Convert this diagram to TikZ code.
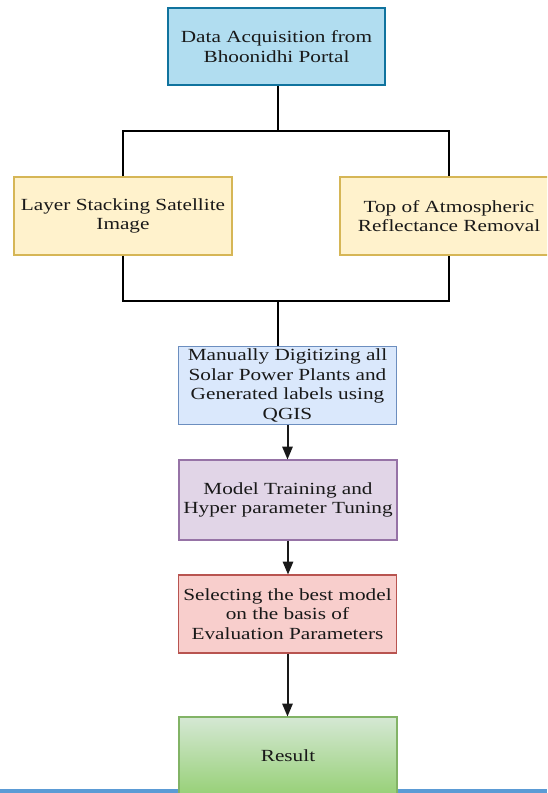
\documentclass[tikz,border=0pt]{standalone}
\usepackage{fontspec}
\setmainfont[FakeStretch=1.25]{Liberation Serif}
\usepackage{tikz}
\usetikzlibrary{calc,positioning,arrows,shapes,shadings}
\definecolor{acqfill}{HTML}{B1DDF0}
\definecolor{acqdraw}{HTML}{10739E}
\definecolor{prefill}{HTML}{FFF2CC}
\definecolor{predraw}{HTML}{D6B656}
\definecolor{digfill}{HTML}{DAE8FC}
\definecolor{digdraw}{HTML}{6C8EBF}
\definecolor{trnfill}{HTML}{E1D5E7}
\definecolor{trndraw}{HTML}{9673A6}
\definecolor{selfill}{HTML}{F8CECC}
\definecolor{seldraw}{HTML}{B85450}
\definecolor{restop}{HTML}{D5E8D4}
\definecolor{resbot}{HTML}{97D077}
\definecolor{resdraw}{HTML}{82B366}
\definecolor{baseblue}{HTML}{5B9BD5}
\tikzset{
    >=triangle 45,
    block/.style={
        rectangle,
        draw, line width=1.2pt,
        minimum width=218pt,
        minimum height=78pt,
        inner sep=1pt,
        align=center,
        text=black!90
    },
    line/.style={draw, line width=2.6pt, black},
    arrowline/.style={draw, line width=2pt, black!90, ->},
    font={\fontsize{17pt}{19.5pt}\selectfont},
}
\begin{document}
\begin{tikzpicture}[x=1pt,y=-1pt]
\useasboundingbox (0,0) rectangle (547,793);
\clip (0,0) rectangle (547,793);
\fill[baseblue] (0,789) rectangle (547,793);
\node[block,fill=acqfill,draw=acqdraw,minimum width=217pt,minimum height=77pt] (acq) at (276.5,46.5)
    {Data Acquisition from\\Bhoonidhi Portal};
\node[block,fill=prefill,draw=predraw] (stack) at (123,216)
    {Layer Stacking Satellite\\Image};
\node[block,fill=prefill,draw=predraw] (toa) at (449,216)
    {Top of Atmospheric\\Reflectance Removal};
\node[block,fill=digfill,draw=digdraw] (digit) at (287.5,385.5)
    {Manually Digitizing all\\Solar Power Plants and\\Generated labels using\\QGIS};
\node[block,fill=trnfill,draw=trndraw,minimum height=80pt] (train) at (288,500)
    {Model Training and\\Hyper parameter Tuning};
\node[block,fill=selfill,draw=seldraw] (select) at (287.5,614)
    {Selecting the best model\\on the basis of\\Evaluation Parameters};
\node[block,top color=restop,bottom color=resbot,draw=resdraw] (result) at (288,756)
    {Result};
\coordinate (split) at (278,131);
\coordinate (merge) at (278,301);
\draw[line] (split |- acq.south) -- (split);
\draw[line] (stack.north) |- (split) -| (toa.north);
\draw[line] (stack.south) |- (merge) -| (toa.south);
\draw[line] (merge) -- (merge |- digit.north);
\draw[arrowline] (digit.south) -- (digit.south |- train.north);
\draw[arrowline] (train.south) -- (train.south |- select.north);
\draw[arrowline] (select.south) -- (select.south |- result.north);
\end{tikzpicture}
\end{document}
